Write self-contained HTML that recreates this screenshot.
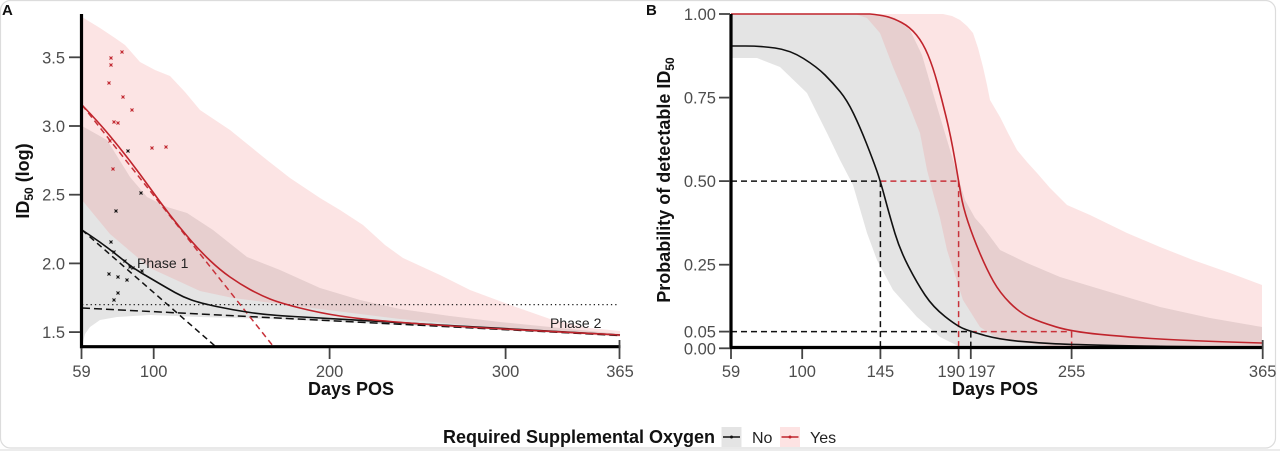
<!DOCTYPE html>
<html>
<head>
<meta charset="utf-8">
<style>
  html,body{margin:0;padding:0;background:#fff;}
  svg{display:block;}
  .tick{font-family:"Liberation Sans",Arial,sans-serif;font-size:16.5px;fill:#4d4d4d;}
  .ttl{font-family:"Liberation Sans",Arial,sans-serif;font-size:18px;font-weight:bold;fill:#111;}
  .ann{font-family:"Liberation Sans",Arial,sans-serif;font-size:14px;fill:#222;}
  .lg{font-family:"Liberation Sans",Arial,sans-serif;font-size:16px;fill:#222;}
</style>
</head>
<body>
<svg width="1280" height="451" viewBox="0 0 1280 451" xmlns="http://www.w3.org/2000/svg">
  <rect x="0" y="0" width="1280" height="451" fill="#fff"/>
  <rect x="0.5" y="0.5" width="1275" height="447.5" rx="10" ry="10" fill="none" stroke="#dcdcdc" stroke-width="1.2"/>
  <rect x="0" y="449" width="1280" height="2" fill="#ececec"/>

  <!-- ================= PANEL A ================= -->
  <!-- gray band -->
  <polygon fill="#e4e4e4" points="82,126 107,140 130,177 147,197 167,207 187,213 213,230 247,257 280,270 320,288 360,300 400,309 450,316 500,322 560,328 620,334 620,336 500,330 400,325 320,321 267,319 200,317 150,315 117,317 100,320 90,327 85,334 82,346"/>
  <!-- pink band -->
  <polygon fill="rgb(240,130,130)" fill-opacity="0.22" points="82,17 100,28 115,38 125,45 140,62 155,70 170,76 185,92 200,110 230,130 267,160 290,178 320,198 340,210 363,225 385,245 403,258 440,275 470,290 513,306 553,320 590,328 620,331 620,337 500,328 400,319 320,309 280,304 233,298 200,291 150,268 110,234 82,200"/>

  <!-- dotted threshold -->
  <line x1="82" y1="304.6" x2="618" y2="304.6" stroke="#222" stroke-width="1.3" stroke-dasharray="1.3,3"/>
  <!-- phase 2 dashed -->
  <line x1="82" y1="308" x2="620" y2="335.5" stroke="#111" stroke-width="1.5" stroke-dasharray="8,4"/>
  <!-- phase 1 dashed black -->
  <line x1="82" y1="230" x2="215" y2="346" stroke="#111" stroke-width="1.5" stroke-dasharray="6,4"/>
  <!-- phase 1 dashed red -->
  <line x1="82" y1="105" x2="273" y2="346" stroke="#c8323a" stroke-width="1.5" stroke-dasharray="6,4"/>

  <!-- black solid -->
  <path fill="none" stroke="#111" stroke-width="1.6" d="M82,230 L91,236 Q100,242 108.5,248.5 Q117,255 125,261.5 Q133,268 141.5,273 Q150,278 158.5,283 Q167,288 175,292.5 Q183,297 191.5,300 Q200,303 216.5,306.5 Q233,310 250,312.5 Q267,315 293.5,316.5 Q320,318 360,320.3 Q400,322.5 450,325.5 Q500,328.5 620,335"/>
  <!-- red solid -->
  <path fill="none" stroke="#c0242c" stroke-width="1.6" d="M82,105 L91,114.5 Q100,124 110,136 Q120,148 130,161 Q140,174 150,188 Q160,202 170,215 Q180,228 190,239.5 Q200,251 210,260.5 Q220,270 230,277 Q240,284 250,289.5 Q260,295 270,299 Q280,303 300,308 Q320,313 340,316 Q360,319 390,321.5 Q420,324 460,326.5 Q500,329 620,335"/>

  <!-- red points -->
  <g stroke="#c0242c" stroke-width="1.1">
    <path d="M109.5,56.5l3,3m0,-3l-3,3 M109.5,63.5l3,3m0,-3l-3,3 M120.5,50.5l3,3m0,-3l-3,3 M107.5,81.5l3,3m0,-3l-3,3 M121.5,95.5l3,3m0,-3l-3,3 M130.5,108.5l3,3m0,-3l-3,3 M112.5,120.5l3,3m0,-3l-3,3 M116.5,121.5l3,3m0,-3l-3,3 M108.5,139.5l3,3m0,-3l-3,3 M150.5,146.5l3,3m0,-3l-3,3 M164.5,145.5l3,3m0,-3l-3,3 M111.5,167.5l3,3m0,-3l-3,3"/>
  </g>
  <!-- black points -->
  <g stroke="#111" stroke-width="1.1">
    <path d="M126.5,149.5l3,3m0,-3l-3,3 M139.5,191.5l3,3m0,-3l-3,3 M114.5,209.5l3,3m0,-3l-3,3 M109.5,240.5l3,3m0,-3l-3,3 M112.5,250.5l3,3m0,-3l-3,3 M123.5,259.5l3,3m0,-3l-3,3 M128.5,265.5l3,3m0,-3l-3,3 M131.5,266.5l3,3m0,-3l-3,3 M140.5,269.5l3,3m0,-3l-3,3 M107.5,272.5l3,3m0,-3l-3,3 M116.5,275.5l3,3m0,-3l-3,3 M125.5,278.5l3,3m0,-3l-3,3 M116.5,291.5l3,3m0,-3l-3,3 M112.5,298.5l3,3m0,-3l-3,3"/>
  </g>

  <text class="ann" x="137" y="268">Phase 1</text>
  <text class="ann" x="550" y="328">Phase 2</text>

  <!-- axes A -->
  <line x1="81.5" y1="14" x2="81.5" y2="348.2" stroke="#000" stroke-width="3.2"/>
  <line x1="80" y1="346.7" x2="620.5" y2="346.7" stroke="#000" stroke-width="3.2"/>
  <g stroke="#444" stroke-width="1.8">
    <line x1="69" y1="57.3" x2="80" y2="57.3"/>
    <line x1="69" y1="126" x2="80" y2="126"/>
    <line x1="69" y1="194.7" x2="80" y2="194.7"/>
    <line x1="69" y1="263.4" x2="80" y2="263.4"/>
    <line x1="69" y1="332.1" x2="80" y2="332.1"/>
    <line x1="81.5" y1="348" x2="81.5" y2="359"/>
    <line x1="153.7" y1="348" x2="153.7" y2="359"/>
    <line x1="329.6" y1="348" x2="329.6" y2="359"/>
    <line x1="505.6" y1="348" x2="505.6" y2="359"/>
    <line x1="619.5" y1="340" x2="619.5" y2="359"/>
  </g>
  <g class="tick" text-anchor="end">
    <text x="65" y="63.3">3.5</text>
    <text x="65" y="132">3.0</text>
    <text x="65" y="200.7">2.5</text>
    <text x="65" y="269.4">2.0</text>
    <text x="65" y="338.1">1.5</text>
  </g>
  <g class="tick" text-anchor="middle">
    <text x="81.5" y="377">59</text>
    <text x="153.7" y="377">100</text>
    <text x="329.6" y="377">200</text>
    <text x="505.6" y="377">300</text>
    <text x="620" y="377">365</text>
  </g>
  <text class="ttl" x="351" y="395" text-anchor="middle">Days POS</text>
  <text class="ttl" transform="translate(29,181) rotate(-90)" text-anchor="middle">ID<tspan font-size="12" dy="4">50</tspan><tspan dy="-4"> (log)</tspan></text>
  <text class="ttl" x="2" y="15" style="font-size:15px">A</text>

  <!-- ================= PANEL B ================= -->
  <!-- gray band -->
  <polygon fill="#e4e4e4" points="731,14 870,14 895,18 910,30 922,55 935,100 950,150 965,200 975,218 983,227 1000,250 1027,263 1060,277 1093,287 1160,307 1210,318 1262,327 1262,347 960,347 940,337 917,317 893,290 877,260 867,233 853,185 840,160 827,133 807,93 780,67 757,58 731,58"/>
  <!-- pink band -->
  <polygon fill="rgb(240,130,130)" fill-opacity="0.22" points="731,14 943,14 952,16 960,20 967,26 973,33 978,48 983,67 987,85 990,100 1000,117 1008,133 1017,150 1027,162 1037,173 1050,188 1067,205 1090,215 1127,233 1160,247 1193,260 1230,273 1262,285 1262,347 1050,346 1000,340 980,327 963,300 947,250 940,218 935,200 927,170 920,133 907,100 893,67 880,33 867,18 855,14"/>

  <!-- reference dashed lines -->
  <g stroke-width="1.5" stroke-dasharray="6,4" fill="none">
    <line x1="731" y1="181.1" x2="880.4" y2="181.1" stroke="#111"/>
    <line x1="880.4" y1="181.1" x2="958.6" y2="181.1" stroke="#c8323a"/>
    <line x1="880.4" y1="181.1" x2="880.4" y2="346" stroke="#111"/>
    <line x1="958.6" y1="181.1" x2="958.6" y2="346" stroke="#c8323a"/>
    <line x1="731" y1="331.6" x2="970.8" y2="331.6" stroke="#111"/>
    <line x1="970.8" y1="331.6" x2="1071.6" y2="331.6" stroke="#c8323a"/>
    <line x1="970.8" y1="331.6" x2="970.8" y2="346" stroke="#111"/>
    <line x1="1071.6" y1="331.6" x2="1071.6" y2="346" stroke="#c8323a"/>
  </g>

  <!-- black solid -->
  <path fill="none" stroke="#111" stroke-width="1.6" d="M731,46 L745.5,46 Q760,46 775,48 Q790,50 803.5,58.5 Q817,67 825,75 Q833,83 840,91.5 Q847,100 853.5,113.5 Q860,127 866.5,143.5 Q873,160 876.7,170.5 Q880.4,181 885.2,199 Q890,217 895,233.5 Q900,250 908.5,266.5 Q917,283 925,295 Q933,307 945,316.5 Q957,326 963.9,328.8 Q970.8,331.6 985.4,335.6 Q1000,339.5 1020,341.3 Q1040,343 1055.5,343.8 Q1071,344.5 1115.5,345.5 Q1160,346.5 1262,347.3"/>
  <!-- red solid -->
  <path fill="none" stroke="#c0242c" stroke-width="1.6" d="M731,14 L870,14 Q880,15 886.5,16.5 Q893,18 901.5,22.5 Q910,27 916.5,35 Q923,43 928,55 Q933,67 937.5,83.5 Q942,100 946,116.5 Q950,133 952.5,146.5 Q955,160 956.8,170.5 Q958.6,181 960.8,194 Q963,207 968,222 Q973,237 980,253.5 Q987,270 993.5,281.5 Q1000,293 1010,303 Q1020,313 1030,317.5 Q1040,322 1055.8,326.8 Q1071.6,331.6 1099.3,334.3 Q1127,337 1160,339 Q1193,341 1262,343"/>

  <!-- axes B -->
  <line x1="731" y1="14" x2="731" y2="349" stroke="#000" stroke-width="3.2"/>
  <line x1="729.5" y1="347.5" x2="1263.5" y2="347.5" stroke="#000" stroke-width="3.2"/>
  <g stroke="#444" stroke-width="1.8">
    <line x1="719" y1="14" x2="730" y2="14"/>
    <line x1="719" y1="97.6" x2="730" y2="97.6"/>
    <line x1="719" y1="181.1" x2="730" y2="181.1"/>
    <line x1="719" y1="264.7" x2="730" y2="264.7"/>
    <line x1="719" y1="331.6" x2="730" y2="331.6"/>
    <line x1="719" y1="348.3" x2="730" y2="348.3"/>
    <line x1="731" y1="349" x2="731" y2="359"/>
    <line x1="802.2" y1="349" x2="802.2" y2="359"/>
    <line x1="880.4" y1="349" x2="880.4" y2="359"/>
    <line x1="958.6" y1="349" x2="958.6" y2="359"/>
    <line x1="970.8" y1="349" x2="970.8" y2="359"/>
    <line x1="1071.6" y1="349" x2="1071.6" y2="359"/>
    <line x1="1262.7" y1="340" x2="1262.7" y2="359"/>
  </g>
  <g class="tick" text-anchor="end">
    <text x="716" y="20">1.00</text>
    <text x="716" y="103.6">0.75</text>
    <text x="716" y="187.1">0.50</text>
    <text x="716" y="270.7">0.25</text>
    <text x="716" y="337.6">0.05</text>
    <text x="716" y="354.3">0.00</text>
  </g>
  <g class="tick" text-anchor="middle">
    <text x="731" y="377">59</text>
    <text x="802.2" y="377">100</text>
    <text x="880.4" y="377">145</text>
    <text x="1071.6" y="377">255</text>
    <text x="1262.7" y="377">365</text>
  </g>
  <text class="tick" x="965" y="377" text-anchor="end">190</text>
  <text class="tick" x="968" y="377" text-anchor="start">197</text>
  <text class="ttl" x="995" y="395" text-anchor="middle">Days POS</text>
  <text class="ttl" transform="translate(670,180) rotate(-90)" text-anchor="middle">Probability of detectable ID<tspan font-size="12" dy="4">50</tspan></text>
  <text class="ttl" x="646" y="15" style="font-size:15px">B</text>

  <!-- ================= LEGEND ================= -->
  <text class="ttl" x="443" y="443">Required Supplemental Oxygen</text>
  <rect x="721.5" y="427" width="20" height="20" fill="#e4e4e4"/>
  <line x1="723" y1="437" x2="740" y2="437" stroke="#111" stroke-width="1.6"/>
  <circle cx="731.5" cy="437" r="1.5" fill="#111"/>
  <text class="lg" x="752" y="443">No</text>
  <rect x="780" y="427" width="20" height="20" fill="#fde3e3"/>
  <line x1="781.5" y1="437" x2="798.5" y2="437" stroke="#c0242c" stroke-width="1.6"/>
  <circle cx="790" cy="437" r="1.5" fill="#c0242c"/>
  <text class="lg" x="810" y="443">Yes</text>
</svg>
</body>
</html>
